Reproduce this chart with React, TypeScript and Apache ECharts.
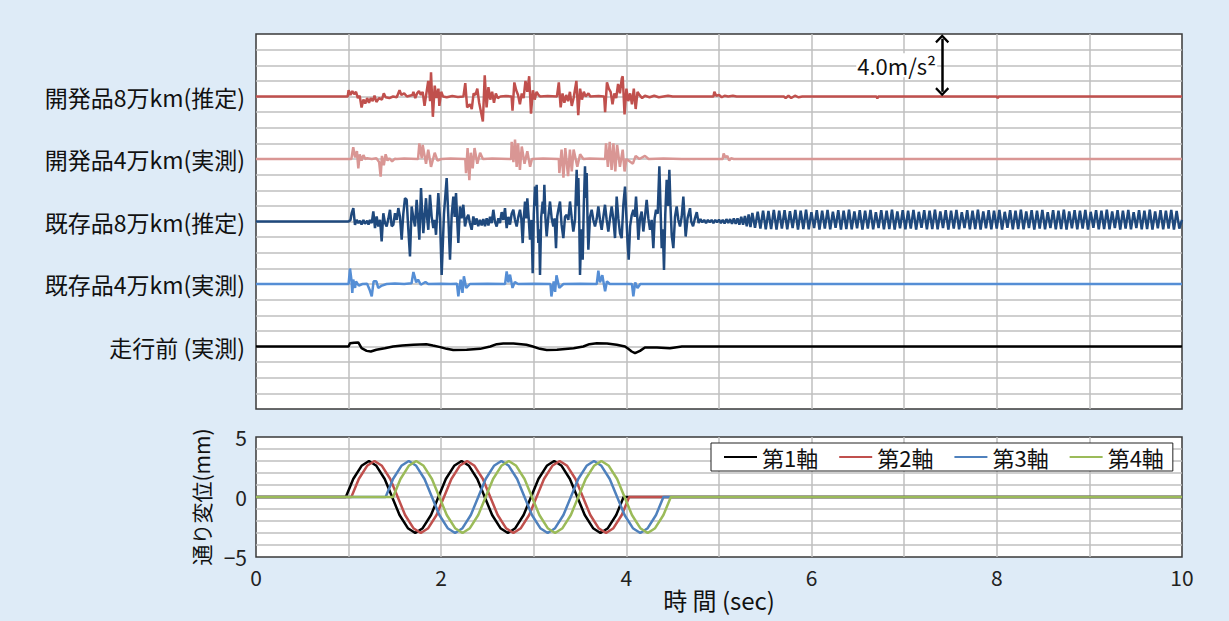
import React, { useEffect, useRef } from 'react';
import * as echarts from 'echarts';

// ---------- top panel (acceleration traces, m/s^2, drawn around their row offsets) ----------
const rowNames = ['開発品8万km(推定)', '開発品4万km(実測)', '既存品8万km(推定)', '既存品4万km(実測)', '走行前 (実測)'];
const rowOffsets = [20, 16, 12, 8, 4];
const rowColors = ['#c0504d', '#d99694', '#1f497d', '#558ed5', '#000000'];

const devel80k: [number, number][] = [
  [0,0],[0.99,0],[1.0,0.4],[1.02,0.1],[1.04,0.35],[1.06,0.15],[1.08,0.3],[1.1,-0.1],[1.12,0.05],[1.14,-0.7],[1.16,-0.2],[1.18,-0.45],[1.2,-0.1],[1.22,-0.4],[1.24,-0.1],[1.26,-0.3],[1.28,0.05],[1.3,-0.35],[1.33,-0.1],[1.36,-0.2],[1.38,0.2],[1.4,-0.05],[1.44,-0.1],[1.48,0],[1.52,-0.05],[1.55,0.4],[1.57,0.1],[1.6,0.2],[1.63,0],[1.66,0.05],[1.69,0.1],[1.7,0.3],[1.72,-0.1],[1.74,0.2],[1.76,0.35],[1.78,0.1],[1.8,0.3],[1.82,-0.6],[1.84,0.2],[1.86,1.0],[1.88,-0.3],[1.89,1.55],[1.91,-1.3],[1.93,0.7],[1.95,-0.1],[1.97,0.5],[1.98,-0.6],[2.0,0.3],[2.02,0],[2.06,-0.05],[2.12,0.03],[2.18,-0.03],[2.24,0],[2.26,0.85],[2.28,-0.7],[2.31,-0.5],[2.33,-0.8],[2.35,0.2],[2.37,0.1],[2.39,0.5],[2.41,-0.4],[2.43,-1.0],[2.45,-1.6],[2.47,1.35],[2.49,-0.7],[2.51,0.6],[2.53,-0.2],[2.55,0.3],[2.57,-0.4],[2.59,0.2],[2.61,-0.1],[2.64,0],[2.7,0.03],[2.76,0],[2.77,-0.9],[2.79,0.9],[2.81,0.4],[2.83,0.1],[2.85,-0.5],[2.87,0.2],[2.89,-0.1],[2.91,1.0],[2.93,0.3],[2.95,1.3],[2.97,-1.1],[2.99,0.4],[3.01,-0.2],[3.03,0.3],[3.05,0.1],[3.07,0],[3.15,0.03],[3.25,0],[3.27,0.9],[3.29,-0.7],[3.31,0.2],[3.33,-0.4],[3.35,0.1],[3.37,-0.3],[3.39,0.3],[3.41,-0.6],[3.43,-0.1],[3.46,1.0],[3.48,-1.2],[3.5,0.5],[3.52,-0.2],[3.54,0.3],[3.56,0],[3.59,0.2],[3.61,0],[3.7,0.03],[3.76,0],[3.77,-1.0],[3.79,0.9],[3.81,0.5],[3.83,0.3],[3.85,-0.5],[3.87,0.2],[3.89,-0.1],[3.91,0.8],[3.93,0.2],[3.95,1.15],[3.96,1.3],[3.98,-1.15],[4.0,0.5],[4.02,-0.3],[4.04,0.2],[4.06,-0.5],[4.08,0.5],[4.1,-0.8],[4.12,0.3],[4.14,0.1],[4.17,-0.1],[4.2,0.05],[4.25,-0.05],[4.3,0.05],[4.35,-0.05],[4.4,0],[4.45,0.05],[4.5,0],[4.94,0],[4.95,0.3],[4.97,0.05],[5.0,0.1],[5.03,-0.05],[5.06,0.05],[5.1,0],[5.15,0.05],[5.19,0],[5.7,0],[5.72,-0.1],[5.75,0.05],[5.78,-0.1],[5.82,0.05],[5.86,-0.05],[5.9,0],[6.7,0],[6.71,-0.12],[6.72,0],[8.0,0],[8.01,-0.1],[8.02,0],[10,0]
];

const devel40k: [number, number][] = [
  [0,0],[1.03,0],[1.05,0.75],[1.07,0.1],[1.09,0.5],[1.105,-0.6],[1.12,0.3],[1.14,-0.1],[1.16,0.25],[1.18,0],[1.2,0.05],[1.25,0],[1.3,0.05],[1.33,-0.2],[1.346,-1.13],[1.36,0.2],[1.38,-0.4],[1.4,0.3],[1.42,-0.1],[1.44,0.05],[1.47,-0.15],[1.5,0.02],[1.52,0],[1.6,0.03],[1.75,0],[1.764,1.0],[1.79,0.05],[1.8,0.9],[1.836,-0.3],[1.86,0.6],[1.89,-0.5],[1.93,0.4],[1.96,-0.1],[2.0,0],[2.1,0.03],[2.26,0],[2.268,-0.9],[2.285,0.7],[2.304,-1.35],[2.32,0.4],[2.34,-0.6],[2.36,0.7],[2.39,-0.3],[2.42,0.4],[2.45,0],[2.55,0.03],[2.755,0],[2.761,1.1],[2.78,-0.2],[2.797,1.25],[2.815,-0.5],[2.83,1.0],[2.85,-0.7],[2.87,0.8],[2.9,-0.3],[2.93,0.5],[2.96,-0.5],[2.98,0],[3.1,0.03],[3.27,0],[3.276,-0.9],[3.3,0.6],[3.32,-1.2],[3.34,0.7],[3.37,-1.1],[3.39,0.6],[3.41,-0.8],[3.43,0.6],[3.47,-0.5],[3.5,0.3],[3.535,0],[3.6,0.03],[3.77,0],[3.78,1.0],[3.8,-0.5],[3.82,1.1],[3.84,-0.7],[3.86,1.0],[3.88,-0.8],[3.9,0.9],[3.93,-0.5],[3.96,0.6],[3.98,-0.8],[4.0,0],[4.07,-0.3],[4.1,0.2],[4.14,0],[4.2,0.2],[4.24,0],[4.4,0.03],[4.6,0],[5.04,0],[5.05,0.35],[5.07,0.1],[5.09,0.2],[5.11,-0.1],[5.13,0.05],[5.16,0],[10,0]
];

const legacy80k: [number, number][] = [
  [0,0],[1.0,0],[1.02,0.1],[1.033,0.53],[1.051,0.86],[1.069,-0.21],[1.087,0.1],[1.105,-0.1],[1.123,0.05],[1.14,-0.2],[1.16,0.1],[1.177,-0.15],[1.2,0.05],[1.215,-0.2],[1.231,0.1],[1.25,-0.1],[1.267,0.64],[1.285,-0.42],[1.303,0.32],[1.321,-0.32],[1.34,0.1],[1.357,-1.28],[1.375,0.53],[1.393,-0.1],[1.411,-0.32],[1.43,0.2],[1.447,0.75],[1.465,-0.3],[1.483,-0.21],[1.501,0.53],[1.52,0.1],[1.537,0.86],[1.555,0.3],[1.573,-1.17],[1.591,0.5],[1.609,1.49],[1.627,1.39],[1.645,-0.5],[1.663,-2.24],[1.681,0.96],[1.7,0.2],[1.717,-0.32],[1.735,1.39],[1.75,0.2],[1.764,-1.17],[1.782,2.14],[1.795,0.5],[1.807,-0.75],[1.82,0.3],[1.836,1.49],[1.85,0.1],[1.861,-0.53],[1.879,1.71],[1.897,0.3],[1.915,-0.42],[1.93,0.1],[1.944,-0.85],[1.969,1.82],[1.987,0.21],[2.005,-3.42],[2.03,0.5],[2.059,2.78],[2.077,0.3],[2.095,-2.45],[2.113,0.4],[2.131,1.6],[2.145,0.3],[2.16,1.82],[2.172,0.2],[2.185,-1.38],[2.203,0.96],[2.22,0.2],[2.239,1.07],[2.257,-0.32],[2.275,0.2],[2.293,0.43],[2.31,-0.1],[2.329,-0.53],[2.347,0.32],[2.365,-0.2],[2.383,0.2],[2.4,-0.3],[2.419,0.1],[2.437,-0.25],[2.455,0.15],[2.473,-0.3],[2.491,0.2],[2.51,-0.25],[2.527,0.3],[2.545,-0.1],[2.563,0.75],[2.58,0],[2.599,-0.32],[2.617,0.2],[2.635,-0.1],[2.653,0.6],[2.671,0.1],[2.689,0.86],[2.707,-0.42],[2.725,0.3],[2.743,-0.2],[2.761,0.5],[2.779,0.75],[2.797,0.1],[2.815,-0.32],[2.833,0.3],[2.851,0.75],[2.865,0.2],[2.88,-1.38],[2.893,0.3],[2.905,1.28],[2.918,0.2],[2.93,1.49],[2.945,0.2],[2.959,-1.17],[2.975,0.1],[2.988,-3.31],[3.0,0.5],[3.013,2.24],[3.022,1.0],[3.031,2.35],[3.04,0.2],[3.049,-1.38],[3.058,-0.5],[3.067,-3.42],[3.08,0.3],[3.096,1.28],[3.105,0.5],[3.114,2.35],[3.125,0.3],[3.139,-0.96],[3.157,0.3],[3.175,1.28],[3.193,0.2],[3.211,-0.32],[3.225,0.2],[3.24,-1.71],[3.252,0.3],[3.265,0.75],[3.283,1.28],[3.3,-0.2],[3.319,-1.06],[3.337,0.3],[3.355,0.43],[3.373,0.1],[3.391,1.28],[3.41,0.2],[3.427,-0.64],[3.445,0.1],[3.463,3.31],[3.472,1.0],[3.481,2.78],[3.49,0.3],[3.499,-3.42],[3.513,-0.5],[3.528,-2.45],[3.54,1.0],[3.553,3.53],[3.562,1.5],[3.571,3.1],[3.58,0.2],[3.589,-1.81],[3.607,0.3],[3.625,0.75],[3.643,0.1],[3.661,-0.32],[3.68,0.2],[3.697,0.96],[3.715,0.1],[3.733,-0.53],[3.751,0.3],[3.769,1.07],[3.787,0.1],[3.805,-0.64],[3.823,0.2],[3.841,0.96],[3.86,0.1],[3.877,-1.06],[3.895,1.6],[3.913,0.2],[3.931,-0.75],[3.949,-1.06],[3.967,1.07],[3.985,2.24],[4.0,0.3],[4.012,-1.28],[4.025,-2.45],[4.04,-0.3],[4.057,0.4],[4.075,0.75],[4.09,0.3],[4.104,1.6],[4.117,0.3],[4.129,-1.17],[4.147,0.2],[4.165,0.64],[4.183,-0.64],[4.2,0.3],[4.219,1.39],[4.237,0.2],[4.255,-0.53],[4.273,0.1],[4.291,-1.71],[4.305,0.2],[4.32,0.75],[4.338,0.5],[4.356,3.53],[4.368,1.0],[4.381,-1.71],[4.393,-0.5],[4.406,-3.1],[4.42,0.5],[4.435,2.67],[4.45,1.0],[4.464,3.31],[4.476,1.0],[4.489,-0.85],[4.507,-1.71],[4.525,0.3],[4.543,0.96],[4.561,0.1],[4.579,-0.32],[4.597,0.3],[4.615,1.6],[4.64,-0.96],[4.66,0.2],[4.687,0.85],[4.7,0],[4.72,-0.3],[4.74,0.2],[4.76,0.6],[4.78,-0.1],[4.8,0.15],[4.82,-0.05],[4.84,0.1],[4.86,-0.1],[4.88,0.1],[4.9,-0.05],[4.92,0.1],[4.94,-0.1],[4.96,0.1],[4.98,-0.05],[5.0,0.12],[5.02,-0.1],[5.04,0.1],[5.06,-0.12],[5.08,0.15],[5.1,-0.1],[5.12,0.15],[5.14,-0.15],[5.16,0.2],[5.18,-0.15],[5.2,0.2],[5.22,-0.2],[5.24,0.3],[5.26,-0.2],[5.28,0.35],[5.3,-0.3],[5.32,0.45],[5.34,-0.35]
];

// steady hunting oscillation of the 既存品8万km trace, sampled every half period from 5.36 s
const legacyHuntStart = 5.36;
const legacyHuntStep = 0.029;
const legacyHunt = [
  0.55,-0.4,0.62,-0.45,0.7,-0.5,0.68,-0.48,0.74,-0.52,0.7,-0.45,0.72,-0.5,0.66,-0.42,0.74,-0.52,0.7,-0.48,
  0.75,-0.5,0.6,-0.42,0.72,-0.52,0.7,-0.46,0.74,-0.5,0.62,-0.4,0.72,-0.52,0.7,-0.48,0.75,-0.5,0.64,-0.44,
  0.72,-0.52,0.7,-0.46,0.74,-0.5,0.6,-0.42,0.72,-0.5,0.7,-0.48,0.75,-0.52,0.65,-0.44,0.72,-0.5,0.7,-0.46,
  0.74,-0.52,0.62,-0.4,0.72,-0.5,0.7,-0.48,0.75,-0.5,0.64,-0.42,0.72,-0.52,0.7,-0.46,0.74,-0.5,0.6,-0.42,
  0.72,-0.5,0.7,-0.48,0.75,-0.52,0.65,-0.44,0.72,-0.5,0.7,-0.46,0.74,-0.52,0.62,-0.4,0.72,-0.5,0.7,-0.48,
  0.75,-0.5,0.64,-0.42,0.72,-0.52,0.7,-0.46,0.74,-0.5,0.6,-0.42,0.72,-0.5,0.7,-0.48,0.75,-0.52,0.65,-0.44,
  0.72,-0.5,0.7,-0.46,0.74,-0.52,0.62,-0.4,0.72,-0.5,0.7,-0.48,0.75,-0.5,0.64,-0.42,0.72,-0.52,0.7,-0.46,
  0.74,-0.5,0.6,-0.42,0.72,-0.5,0.7,-0.48,0.75,-0.52,0.65,-0.44,0.72,-0.5,0.7,-0.46,0.74,-0.52,0.68,-0.45
];

const legacy40k: [number, number][] = [
  [0,0],[1.0,0],[1.015,0.99],[1.03,0.3],[1.04,-0.57],[1.05,0.28],[1.07,-0.25],[1.08,0.17],[1.11,-0.1],[1.15,0],[1.2,0.02],[1.23,-0.42],[1.25,-0.79],[1.27,0.17],[1.3,0.17],[1.32,-0.25],[1.36,-0.1],[1.41,0],[1.5,0.03],[1.6,0],[1.68,0.05],[1.7,0.77],[1.73,0.1],[1.75,0.28],[1.78,-0.05],[1.83,0.13],[1.86,0],[2.0,0.02],[2.1,0],[2.17,0.02],[2.185,-0.79],[2.21,0.28],[2.23,-0.57],[2.245,0.49],[2.27,-0.25],[2.31,0],[2.5,0.02],[2.69,0],[2.707,0.81],[2.725,0.1],[2.743,0.6],[2.77,-0.25],[2.795,0.13],[2.83,0],[3.0,0.02],[3.18,0],[3.19,-0.8],[3.215,0.17],[3.23,-0.5],[3.245,0.56],[3.275,-0.25],[3.32,0],[3.5,0.02],[3.68,0],[3.697,0.86],[3.715,0.1],[3.74,0.56],[3.77,-0.47],[3.79,0.17],[3.82,0],[4.06,0],[4.075,-0.79],[4.095,0.1],[4.12,-0.25],[4.15,0],[10,0]
];

const preRun: [number, number][] = [
  [0,0],[1.0,0],[1.015,0.21],[1.06,0.24],[1.105,0.26],[1.14,-0.11],[1.195,-0.28],[1.24,-0.32],[1.3,-0.21],[1.39,-0.11],[1.48,0],[1.58,0.06],[1.7,0.11],[1.84,0.15],[1.91,0.06],[1.99,-0.04],[2.06,-0.15],[2.13,-0.23],[2.275,-0.21],[2.42,-0.15],[2.53,0],[2.6,0.15],[2.67,0.19],[2.78,0.19],[2.92,0.11],[2.99,0],[3.066,-0.15],[3.14,-0.23],[3.25,-0.21],[3.43,-0.11],[3.535,0],[3.6,0.15],[3.68,0.21],[3.79,0.19],[3.895,0.11],[3.985,0],[4.02,-0.15],[4.057,-0.32],[4.093,-0.43],[4.147,-0.28],[4.2,-0.06],[4.33,-0.06],[4.47,-0.11],[4.6,0],[10,0]
];

// scale bar in the top panel
const scaleBarTime = 7.41;
const scaleBarFrom = 23.7;
const scaleBarTo = 20.3;
const scaleBarLabelAt = 22.0;
const scaleBarText = '4.0m/s²';

// ---------- bottom panel (lateral track displacement seen by each axle, mm) ----------
const axleNames = ['第1軸', '第2軸', '第3軸', '第4軸'];
const axleColors = ['#000000', '#c0504d', '#4f81bd', '#9bbb59'];
const sweepValues = [
  0,1.5,2.6,3,2.6,1.5,0,-1.5,-2.6,-3,-2.6,-1.5,
  0,1.5,2.6,3,2.6,1.5,0,-1.5,-2.6,-3,-2.6,-1.5,
  0,1.5,2.6,3,2.6,1.5,0,-1.5,-2.6,-3,-2.6,-1.5,
  0
];
const axle1Times = [0.97,1.05,1.14,1.22,1.30,1.39,1.47,1.55,1.64,1.72,1.80,1.89,1.97,2.05,2.14,2.22,2.30,2.39,2.47,2.55,2.64,2.72,2.80,2.89,2.97,3.05,3.14,3.22,3.30,3.39,3.47,3.55,3.64,3.72,3.80,3.89,3.97];
const axle2Times = [1.03,1.11,1.20,1.28,1.36,1.45,1.53,1.61,1.70,1.78,1.86,1.95,2.03,2.11,2.20,2.28,2.36,2.45,2.53,2.61,2.70,2.78,2.86,2.95,3.03,3.11,3.20,3.28,3.36,3.45,3.53,3.61,3.70,3.78,3.86,3.95,4.03];
const axle3Times = [1.40,1.48,1.57,1.65,1.73,1.82,1.90,1.98,2.07,2.15,2.23,2.32,2.40,2.48,2.57,2.65,2.73,2.82,2.90,2.98,3.07,3.15,3.23,3.32,3.40,3.48,3.57,3.65,3.73,3.82,3.90,3.98,4.07,4.15,4.23,4.32,4.40];
const axle4Times = [1.48,1.56,1.65,1.73,1.81,1.90,1.98,2.06,2.15,2.23,2.31,2.40,2.48,2.56,2.65,2.73,2.81,2.90,2.98,3.06,3.15,3.23,3.31,3.40,3.48,3.56,3.65,3.73,3.81,3.90,3.98,4.06,4.15,4.23,4.31,4.40,4.48];
const axleTimes = [axle1Times, axle2Times, axle3Times, axle4Times];

const timeMin = 0;
const timeMax = 10;

const FONT = '"Noto Sans CJK JP", "Noto Sans", sans-serif';

export default function App() {
  const ref = useRef<HTMLDivElement>(null);
  useEffect(() => {
    if (!ref.current) return;
    const chart = echarts.init(ref.current, undefined, { renderer: 'svg' });

    const huntPairs: [number, number][] = legacyHunt.map((v, i) => [legacyHuntStart + i * legacyHuntStep, v]);
    const rowData: [number, number][][] = [
      devel80k,
      devel40k,
      [...legacy80k, ...huntPairs, [10, 0.1]],
      legacy40k,
      preRun,
    ];

    const gridLine = { lineStyle: { color: '#bfbfbf', width: 1.5 }, showMinLine: false, showMaxLine: false };

    const topSeries = rowNames.map((name, i) => ({
      name,
      type: 'line',
      xAxisIndex: 0,
      yAxisIndex: 0,
      showSymbol: false,
      symbol: 'none',
      z: 3 + i,
      lineStyle: { color: rowColors[i], width: 2.5 },
      itemStyle: { color: rowColors[i] },
      data: rowData[i].map(([t, v]) => [t, rowOffsets[i] + v]),
      ...(i === 0
        ? {
            markLine: {
              silent: true,
              symbol: ['path://M0,0 L7,7 L5.4,8.6 L0,3.2 L-5.4,8.6 L-7,7 Z', 'path://M0,0 L7,7 L5.4,8.6 L0,3.2 L-5.4,8.6 L-7,7 Z'],
              symbolSize: [14, 9],
              label: { show: false },
              lineStyle: { color: '#000', width: 2.5, type: 'solid' },
              data: [[{ coord: [scaleBarTime, scaleBarFrom] }, { coord: [scaleBarTime, scaleBarTo] }]],
            },
            markPoint: {
              silent: true,
              symbol: 'rect',
              symbolSize: 0,
              data: [{ coord: [scaleBarTime, scaleBarLabelAt] }],
              label: {
                show: true,
                position: 'left',
                distance: 5,
                formatter: scaleBarText,
                fontFamily: FONT,
                fontSize: 22,
                color: '#111',
                backgroundColor: '#fff',
                padding: [1, 1],
              },
            },
          }
        : {}),
    }));

    const bottomSeries = axleNames.map((name, i) => ({
      name,
      type: 'line',
      xAxisIndex: 1,
      yAxisIndex: 1,
      showSymbol: false,
      symbol: 'none',
      z: 3 + i,
      lineStyle: { color: axleColors[i], width: 2.5 },
      itemStyle: { color: axleColors[i] },
      data: [[timeMin, 0], ...axleTimes[i].map((t, k) => [t, sweepValues[k]]), [timeMax, 0]],
    }));

    chart.setOption({
      animation: false,
      backgroundColor: '#deebf7',
      textStyle: { fontFamily: FONT },
      grid: [
        { left: 256, top: 34, width: 926, height: 375, show: true, backgroundColor: '#fff', borderColor: '#3a3a3a', borderWidth: 1.5, z: 0 },
        { left: 256, top: 437, width: 926, height: 120, show: true, backgroundColor: '#fff', borderColor: '#3a3a3a', borderWidth: 1.5, z: 0 },
      ],
      legend: {
        data: axleNames,
        left: 711,
        top: 443,
        orient: 'horizontal',
        backgroundColor: '#fff',
        borderColor: '#222',
        borderWidth: 1,
        padding: [3, 9, 3, 13],
        itemGap: 21,
        itemWidth: 33,
        itemHeight: 2,
        icon: 'rect',
        textStyle: { fontFamily: FONT, fontSize: 22, color: '#111' },
      },
      xAxis: [
        {
          gridIndex: 0, type: 'value', min: timeMin, max: timeMax, interval: 1,
          axisLine: { show: false }, axisTick: { show: false }, axisLabel: { show: false },
          splitLine: gridLine,
        },
        {
          gridIndex: 1, type: 'value', min: timeMin, max: timeMax, interval: 1,
          axisLine: { show: false }, axisTick: { show: false },
          axisLabel: { fontFamily: FONT, fontSize: 21, color: '#222', margin: 9, formatter: (v: number) => (v % 2 === 0 ? String(v) : '') },
          splitLine: gridLine,
          name: '時 間 (sec)', nameLocation: 'middle', nameGap: 29,
          nameTextStyle: { fontFamily: FONT, fontSize: 24, color: '#111' },
        },
      ],
      yAxis: [
        {
          gridIndex: 0, type: 'value', min: 0, max: 24, interval: 1,
          axisLine: { show: false }, axisTick: { show: false },
          axisLabel: {
            fontFamily: FONT, fontSize: 23, color: '#111', margin: 11,
            formatter: (v: number) => { const k = rowOffsets.indexOf(v); return k >= 0 ? rowNames[k] : ''; },
          },
          splitLine: gridLine,
        },
        {
          gridIndex: 1, type: 'value', min: -5, max: 5, interval: 1,
          axisLine: { show: false }, axisTick: { show: false },
          axisLabel: {
            fontFamily: FONT, fontSize: 21, color: '#222', margin: 9,
            formatter: (v: number) => (v === 5 ? '5' : v === 0 ? '0' : v === -5 ? '−5' : ''),
          },
          splitLine: gridLine,
          name: '通り変位(mm)', nameLocation: 'middle', nameGap: 45,
          nameTextStyle: { fontFamily: FONT, fontSize: 21, color: '#111' },
        },
      ],
      series: [...topSeries, ...bottomSeries],
    });

    return () => chart.dispose();
  }, []);

  return <div ref={ref} style={{ position: 'fixed', left: 0, top: 0, width: 1229, height: 621 }} />;
}
